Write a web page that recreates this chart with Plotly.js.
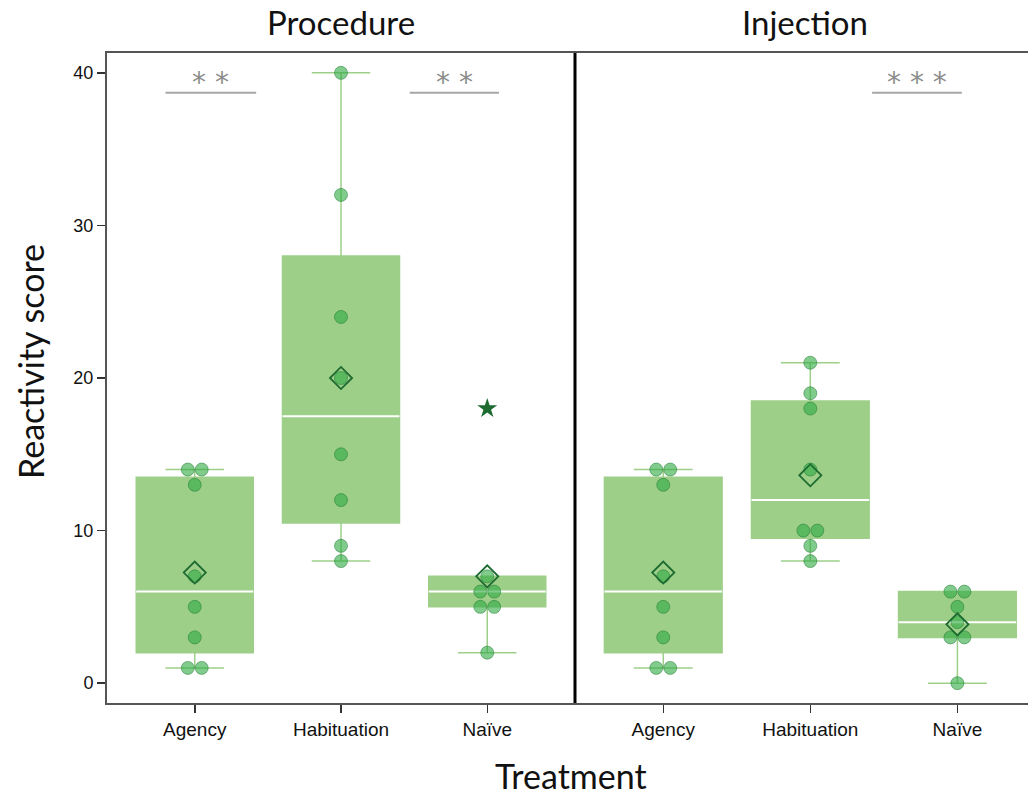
<!DOCTYPE html>
<html>
<head>
<meta charset="utf-8">
<script src="https://cdn.plot.ly/plotly-3.0.1.min.js"></script>
<style>html,body{margin:0;padding:0;background:#fff;}#chart{width:1028px;height:795px;}</style>
</head>
<body>
<div id="chart"></div>
<script>
// ---- data ----
const categories = ['Agency', 'Habituation', 'Naïve'];
const panelTitles = ['Procedure', 'Injection'];
const procAgency = [1, 1, 3, 5, 7, 13, 14, 14];
const procHabituation = [8, 9, 12, 15, 20, 24, 32, 40];
const procNaive = [2, 5, 5, 6, 6, 7, 18];
const injAgency = [1, 1, 3, 5, 7, 13, 14, 14];
const injHabituation = [8, 9, 10, 10, 14, 18, 19, 21];
const injNaive = [0, 3, 3, 4, 5, 6, 6];
const yTickVals = [0, 10, 20, 30, 40];
const sigAxis = ['x', 'x', 'x2'];
const sigStart = [-0.2, 1.47, 1.42];
const sigEnd = [0.42, 2.08, 2.03];
const sigLevel = [38.7, 38.7, 38.7];
const sigLabel = ['* *', '* *', '* * *'];

const panels = [
  {axis: 'x', groups: [procAgency, procHabituation, procNaive]},
  {axis: 'x2', groups: [injAgency, injHabituation, injNaive]}
];

// ---- helpers ----
function med(s) { const n = s.length, m = Math.floor(n / 2); return n % 2 ? s[m] : (s[m - 1] + s[m]) / 2; }
function quart(a) {
  const s = a.slice().sort((p, q) => p - q), n = s.length, h = Math.floor(n / 2);
  const lo = s.slice(0, h), hi = n % 2 ? s.slice(h + 1) : s.slice(h);
  return [med(lo), med(s), med(hi)];
}

const GREEN_BOX = '#9dcf89';
const DARK = '#1d6b30';
const BOX_W = 0.8;
const DUP_STEP = 0.095;

const traces = [];
panels.forEach(p => {
  const bx = [], by = [];
  p.groups.forEach((g, i) => g.forEach(v => { bx.push(i); by.push(v); }));
  traces.push({
    type: 'box', x: bx, y: by, xaxis: p.axis, yaxis: 'y',
    quartilemethod: 'exclusive', boxpoints: 'outliers', jitter: 0, pointpos: 0,
    width: BOX_W, whiskerwidth: 0.5,
    fillcolor: GREEN_BOX, line: {color: GREEN_BOX, width: 1.5},
    marker: {symbol: 'star', size: 15, color: DARK, line: {width: 0}},
    hoverinfo: 'skip', showlegend: false
  });
});

panels.forEach(p => {
  const mx = [], my = [], px = [], py = [], ax = [], ay = [];
  p.groups.forEach((g, i) => {
    const [q1, m, q3] = quart(g);
    const iqr = q3 - q1, lf = q1 - 1.5 * iqr, uf = q3 + 1.5 * iqr;
    mx.push(i - BOX_W / 2, i + BOX_W / 2, null); my.push(m, m, null);
    const counts = {};
    g.forEach(v => counts[v] = (counts[v] || 0) + 1);
    const seen = {};
    g.forEach(v => {
      if (v < lf || v > uf) return;
      const k = counts[v], j = seen[v] || 0; seen[v] = j + 1;
      px.push(i + (j - (k - 1) / 2) * DUP_STEP); py.push(v);
    });
    ax.push(i); ay.push(g.reduce((s, v) => s + v, 0) / g.length);
  });
  traces.push({type: 'scatter', mode: 'lines', x: mx, y: my, xaxis: p.axis, yaxis: 'y',
    line: {color: '#ffffff', width: 2}, hoverinfo: 'skip', showlegend: false});
  traces.push({type: 'scatter', mode: 'markers', x: px, y: py, xaxis: p.axis, yaxis: 'y',
    marker: {size: 13, color: 'rgba(45,170,65,0.6)', line: {color: 'rgba(30,120,50,0.5)', width: 1}},
    hoverinfo: 'skip', showlegend: false});
  traces.push({type: 'scatter', mode: 'markers', x: ax, y: ay, xaxis: p.axis, yaxis: 'y',
    marker: {symbol: 'diamond-open', size: 17, color: DARK, line: {width: 1.8}},
    hoverinfo: 'skip', showlegend: false});
});

const L = 107, PW = 1028 - 107, T = 53, PH = 650;
const split = (575 - L) / PW;

const shapes = [
  {type: 'line', xref: 'paper', yref: 'paper', x0: split, x1: split, y0: 0, y1: 1,
   line: {color: '#000', width: 3}}
];
const annotations = [];
sigStart.forEach((s, k) => {
  shapes.push({type: 'line', xref: sigAxis[k], yref: 'y', x0: s, x1: sigEnd[k], y0: sigLevel[k], y1: sigLevel[k],
    line: {color: '#a6a6a6', width: 2}});
  annotations.push({xref: sigAxis[k], yref: 'y', x: (s + sigEnd[k]) / 2, y: sigLevel[k], yanchor: 'bottom',
    text: sigLabel[k], showarrow: false, yshift: -8,
    font: {family: 'DejaVu Sans, sans-serif', size: 28, color: '#8c8c8c'}});
});
annotations.push({xref: 'paper', yref: 'paper', x: (341 - L) / PW, y: (T + PH - 22) / PH, text: panelTitles[0],
  showarrow: false, xanchor: 'center', yanchor: 'middle', font: {family: 'Lato, sans-serif', size: 33, color: '#111'}});
annotations.push({xref: 'paper', yref: 'paper', x: (805 - L) / PW, y: (T + PH - 22) / PH, text: panelTitles[1],
  showarrow: false, xanchor: 'center', yanchor: 'middle', font: {family: 'Lato, sans-serif', size: 33, color: '#111'}});
annotations.push({xref: 'paper', yref: 'paper', x: (30 - L) / PW, y: (T + PH - 362) / PH, text: 'Reactivity score',
  textangle: -90, showarrow: false, xanchor: 'center', yanchor: 'middle', font: {family: 'Lato, sans-serif', size: 34, color: '#111'}});
annotations.push({xref: 'paper', yref: 'paper', x: (571 - L) / PW, y: (T + PH - 776) / PH, text: 'Treatment',
  showarrow: false, xanchor: 'center', yanchor: 'middle', font: {family: 'Lato, sans-serif', size: 34, color: '#111'}});

const xCommon = {
  tickmode: 'array', tickvals: [0, 1, 2], ticktext: categories,
  ticks: 'outside', ticklen: 8, tickwidth: 1.5, tickcolor: '#333',
  showline: true, linecolor: '#555', linewidth: 2, mirror: true,
  showgrid: false, zeroline: false, fixedrange: true,
  tickfont: {family: 'Liberation Sans, Arial, sans-serif', size: 19, color: '#111'}
};

const layout = {
  width: 1028, height: 795,
  margin: {l: L, r: 0, t: T, b: 795 - T - PH, pad: 0},
  paper_bgcolor: '#fff', plot_bgcolor: '#fff',
  showlegend: false,
  xaxis: Object.assign({}, xCommon, {domain: [0, split], range: [-0.6, 2.6], anchor: 'y'}),
  xaxis2: Object.assign({}, xCommon, {domain: [split, 1], range: [-0.6, 2.48], anchor: 'y'}),
  yaxis: {
    range: [-1.3, 41.3], tickmode: 'array', tickvals: yTickVals,
    ticks: 'outside', ticklen: 8, tickwidth: 1.5, tickcolor: '#333',
    showline: true, linecolor: '#555', linewidth: 2,
    showgrid: false, zeroline: false, fixedrange: true,
    tickfont: {family: 'Liberation Sans, Arial, sans-serif', size: 18, color: '#111'}
  },
  shapes: shapes,
  annotations: annotations
};

Plotly.newPlot('chart', traces, layout, {displayModeBar: false, staticPlot: true});
</script>
</body>
</html>
